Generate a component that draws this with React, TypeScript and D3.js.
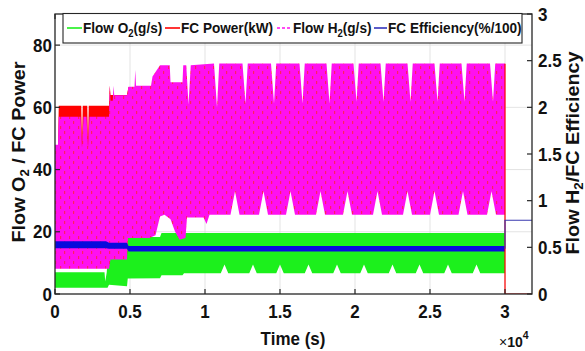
import React from "react";
import * as d3 from "d3";

const W = 585;
const H = 351;

// ---- axes ticks ----
const xTicks = [0, 5000, 10000, 15000, 20000, 25000, 30000];
const xTickLabels = ["0", "0.5", "1", "1.5", "2", "2.5", "3"];
const yLeftTicks = [0, 20, 40, 60, 80];
const yLeftTickLabels = ["0", "20", "40", "60", "80"];
const yRightTicks = [0, 0.5, 1, 1.5, 2, 2.5, 3];
const yRightTickLabels = ["0", "0.5", "1", "1.5", "2", "2.5", "3"];

// ---- Flow O2 (g/s), left axis: envelope (max / min) of the fast oscillation ----
const o2HighT = [0, 3300, 3350, 3450, 3550, 4800, 4850, 7000, 7100, 30000];
const o2High = [7, 7, 4, 7, 14, 14, 18.3, 18.3, 19.6, 19.6];
const o2LowT = [
  0, 3500, 3600, 4800, 4850, 7000, 7100, 8500, 8600,
  11050, 11300, 11550, 12950, 13200, 13450, 14750, 15000, 15250,
  16650, 16900, 17150, 18550, 18800, 19050, 20350, 20600, 20850,
  22250, 22500, 22750, 24050, 24300, 24550, 25950, 26200, 26450,
  27850, 28100, 28350, 30000,
];
const o2Low = [
  2, 2, 3, 2.5, 5, 5.1, 6, 6, 6.7,
  6.7, 9.5, 6.7, 6.7, 9.5, 6.7, 6.7, 9.5, 6.7,
  6.7, 9.5, 6.7, 6.7, 9.5, 6.7, 6.7, 9.5, 6.7,
  6.7, 9.5, 6.7, 6.7, 9.5, 6.7, 6.7, 9.5, 6.7,
  6.7, 9.5, 6.7, 6.7,
];

// ---- FC Power (kW), left axis ----
const powerHighT = [0, 200, 250, 1750, 1800, 1850, 2150, 2200, 2250, 3600, 3650, 3700, 4800, 4900, 5300, 5350, 30000];
const powerHigh = [47, 47, 60.5, 60.5, 48, 60.5, 60.5, 48, 60.5, 60.5, 67, 64, 64, 66.5, 66.5, 60, 60];
const powerLowT = [0, 3600, 3700, 4800, 4850, 6600, 6700, 10300, 10400, 30000];
const powerLow = [9, 9, 12, 12, 19, 19, 26, 26, 34, 34];
const powerTailT = [30000, 30000, 31800];
const powerTail = [74, 0, 0];

// ---- Flow H2 (g/s), right axis ----
const h2HighT = [
  0, 200, 250, 1700, 1800, 1900, 2100, 2200, 2300, 3600,
  3650, 3700, 3850, 3900, 3950, 4800, 4900, 5300, 5350, 5400,
  6400, 6500, 7000, 7650, 7700, 8500, 8550, 8750, 8900, 9050,
  10600, 10800, 10950, 12500, 12700, 12850, 14400, 14600, 14750,
  16300, 16500, 16650, 18100, 18300, 18450, 19900, 20100, 20250,
  21700, 21900, 22050, 23500, 23700, 23850, 25300, 25500, 25650,
  27100, 27300, 27450, 29000, 29200, 29350, 30000,
];
const h2High = [
  1.6, 1.6, 1.9, 1.9, 1.57, 1.9, 1.9, 1.57, 1.9, 1.9,
  2.23, 2.07, 2.07, 2.23, 2.13, 2.13, 2.22, 2.22, 2.4, 2.23,
  2.23, 2.33, 2.45, 2.45, 2.27, 2.27, 2.45, 2.45, 2.03, 2.45,
  2.47, 2.0, 2.47, 2.47, 2.04, 2.47, 2.47, 2.04, 2.47,
  2.47, 2.04, 2.47, 2.47, 2.04, 2.47, 2.47, 2.06, 2.47,
  2.47, 2.06, 2.47, 2.47, 2.06, 2.47, 2.47, 2.06, 2.47,
  2.47, 2.06, 2.47, 2.47, 2.06, 2.47, 2.47,
];
const h2LowT = [
  0, 3600, 3700, 4800, 4850, 6300, 6700, 7000, 7300, 7700,
  8000, 8300, 8700, 8800, 9900, 10100, 10300,
  11700, 12000, 12300, 13600, 13900, 14200, 15400, 15700, 16000,
  17400, 17700, 18000, 19200, 19500, 19800, 21200, 21500, 21800,
  23200, 23500, 23800, 25000, 25300, 25600, 26900, 27200, 27500,
  28800, 29100, 29400, 30000,
];
const h2Low = [
  0.27, 0.27, 0.37, 0.37, 0.6, 0.6, 0.63, 0.83, 0.85, 0.8,
  0.67, 0.58, 0.6, 0.82, 0.82, 0.75, 0.85,
  0.85, 1.1, 0.85, 0.85, 1.1, 0.85, 0.85, 1.1, 0.85,
  0.85, 1.1, 0.85, 0.85, 1.1, 0.85, 0.85, 1.1, 0.85,
  0.85, 1.1, 0.85, 0.85, 1.1, 0.85, 0.85, 1.1, 0.85,
  0.85, 1.1, 0.85, 0.85,
];

// ---- FC Efficiency (%/100), right axis ----
const effT = [0, 3400, 3600, 4800, 4900, 30000];
const effHigh = [0.565, 0.565, 0.55, 0.55, 0.515, 0.515];
const effLow = [0.49, 0.49, 0.485, 0.485, 0.455, 0.455];
const effTailT = [30000, 30000, 31800];
const effTail = [0.485, 0.79, 0.79];

const M = { left: 55, right: 532, top: 14, bottom: 294 };
const FONT = "'Liberation Sans', Arial, Helvetica, sans-serif";

const C_GREEN = "#1cf01c";
const C_RED = "#ff0000";
const C_MAG = "#ff10f0";
const C_BLUE = "#0a0adc";
const C_AX = "#262626";

export default function App() {
  const x = d3.scaleLinear().domain([0, 31800]).range([M.left, M.right]);
  const yL = d3.scaleLinear().domain([0, 90]).range([M.bottom, M.top]);
  const yR = d3.scaleLinear().domain([0, 3]).range([M.bottom, M.top]);

  const line = d3.line<[number, number]>();
  const band = (
    hiT: number[], hi: number[], loT: number[], lo: number[],
    y: d3.ScaleLinear<number, number>
  ) => {
    const top = hiT.map((t, i) => [x(t), y(hi[i])] as [number, number]);
    const bot = loT.map((t, i) => [x(t), y(lo[i])] as [number, number]).reverse();
    return line(top.concat(bot)) + "Z";
  };
  const path = (ts: number[], vs: number[], y: d3.ScaleLinear<number, number>) =>
    line(ts.map((t, i) => [x(t), y(vs[i])] as [number, number])) || "";

  const legendY = 28;
  const legendItems = [
    { x1: 67, x2: 82, color: C_GREEN, dash: "", tx: 83, main: "Flow O", sub: "2", rest: "(g/s)" },
    { x1: 165, x2: 180, color: C_RED, dash: "", tx: 181, main: "FC Power(kW)", sub: "", rest: "" },
    { x1: 277, x2: 291, color: C_MAG, dash: "3,2", tx: 293, main: "Flow H", sub: "2", rest: "(g/s)" },
    { x1: 374, x2: 387, color: "#3333bb", dash: "", tx: 388, main: "FC Efficiency(%/100)", sub: "", rest: "" },
  ];

  return (
    <svg width={W} height={H} style={{ position: "absolute", left: 0, top: 0, background: "#fff" }} fontFamily={FONT}>
      <defs>
        <clipPath id="plot">
          <rect x={M.left} y={M.top} width={M.right - M.left} height={M.bottom - M.top} />
        </clipPath>
        <pattern id="h2pat" width="9" height="10" patternUnits="userSpaceOnUse">
          <rect width="9" height="10" fill={C_MAG} />
          <rect x="1" y="1" width="1.2" height="3" fill="#ff2060" />
          <rect x="6" y="6" width="1.2" height="3" fill="#ff2060" />
        </pattern>
      </defs>
      <rect x={0} y={0} width={W} height={H} fill="#fff" />

      {/* grid */}
      <g stroke="#dcdcdc" strokeWidth={0.8}>
        {xTicks.slice(1).map((t) => (
          <line key={"gx" + t} x1={x(t)} x2={x(t)} y1={M.top} y2={M.bottom} />
        ))}
        {yLeftTicks.slice(1).map((v) => (
          <line key={"gy" + v} x1={M.left} x2={M.right} y1={yL(v)} y2={yL(v)} />
        ))}
      </g>

      <g clipPath="url(#plot)">
        <path d={band(o2HighT, o2High, o2LowT, o2Low, yL)} fill={C_GREEN} />
        <path d={band(powerHighT, powerHigh, powerLowT, powerLow, yL)} fill={C_RED} />
        <path d={band(h2HighT, h2High, h2LowT, h2Low, yR)} fill="url(#h2pat)" />
        <path d={band(effT, effHigh, effT, effLow, yR)} fill={C_BLUE} />
        <path d={path(powerTailT, powerTail, yL)} fill="none" stroke={C_RED} strokeWidth={1.2} />
        <path d={path(effTailT, effTail, yR)} fill="none" stroke="#3a3ab0" strokeWidth={1.2} />
      </g>

      {/* axes box */}
      <rect x={M.left} y={M.top} width={M.right - M.left} height={M.bottom - M.top} fill="none" stroke={C_AX} strokeWidth={1.3} />
      <g stroke={C_AX} strokeWidth={1.2}>
        {xTicks.map((t) => (
          <g key={"tx" + t}>
            <line x1={x(t)} x2={x(t)} y1={M.bottom} y2={M.bottom - 5} />
            <line x1={x(t)} x2={x(t)} y1={M.top} y2={M.top + 5} />
          </g>
        ))}
        {yLeftTicks.map((v) => (
          <line key={"tl" + v} x1={M.left} x2={M.left + 5} y1={yL(v)} y2={yL(v)} />
        ))}
        {yRightTicks.map((v) => (
          <line key={"tr" + v} x1={M.right} x2={M.right - 5} y1={yR(v)} y2={yR(v)} />
        ))}
      </g>

      {/* tick labels */}
      <g fontWeight="bold" fontSize={17} fill="#111">
        {xTicks.map((t, i) => (
          <text key={"lx" + t} transform={`translate(${x(t)},318) scale(1,1.1)`} textAnchor="middle">
            {xTickLabels[i]}
          </text>
        ))}
        {yLeftTicks.map((v, i) => (
          <text key={"ll" + v} transform={`translate(52,${yL(v) + 6.5}) scale(1,1.1)`} textAnchor="end">
            {yLeftTickLabels[i]}
          </text>
        ))}
        {yRightTicks.map((v, i) => (
          <text key={"lr" + v} transform={`translate(538,${yR(v) + 6.5}) scale(1,1.1)`} textAnchor="start">
            {yRightTickLabels[i]}
          </text>
        ))}
      </g>

      {/* x10^4 */}
      <text x={499} y={347} fontSize={14} fill="#111">
        ×<tspan fontWeight="bold">10</tspan>
        <tspan dy={-8} fontSize={10.5} fontWeight="bold">4</tspan>
      </text>

      {/* axis labels */}
      <text transform="translate(293,345) scale(1,1.12)" textAnchor="middle" fontWeight="bold" fontSize={17} fill="#111">
        Time (s)
      </text>
      <text transform="translate(25,152) rotate(-90) scale(1.1,1)" textAnchor="middle" fontWeight="bold" fontSize={18} fill="#111">
        Flow O<tspan dy={4} fontSize={12}>2</tspan><tspan dy={-4}> / FC Power</tspan>
      </text>
      <text transform="translate(579,153) rotate(-90) scale(1.1,1)" textAnchor="middle" fontWeight="bold" fontSize={18} fill="#111">
        Flow H<tspan dy={4} fontSize={12}>2</tspan><tspan dy={-4}>/FC Efficiency</tspan>
      </text>

      {/* legend */}
      <rect x={63} y={13.5} width={459} height={29.5} fill="#fff" stroke={C_AX} strokeWidth={1.1} />
      {legendItems.map((it) => (
        <g key={it.main + it.tx}>
          <line x1={it.x1} x2={it.x2} y1={legendY} y2={legendY} stroke={it.color} strokeWidth={1.6} strokeDasharray={it.dash || undefined} />
          <text transform={`translate(${it.tx},33) scale(1,1.12)`} fontWeight="bold" fontSize={13.6} fill="#111">
            {it.main}
            {it.sub ? <tspan dy={4} fontSize={9.5}>{it.sub}</tspan> : null}
            {it.rest ? <tspan dy={-4}>{it.rest}</tspan> : null}
          </text>
        </g>
      ))}
    </svg>
  );
}
